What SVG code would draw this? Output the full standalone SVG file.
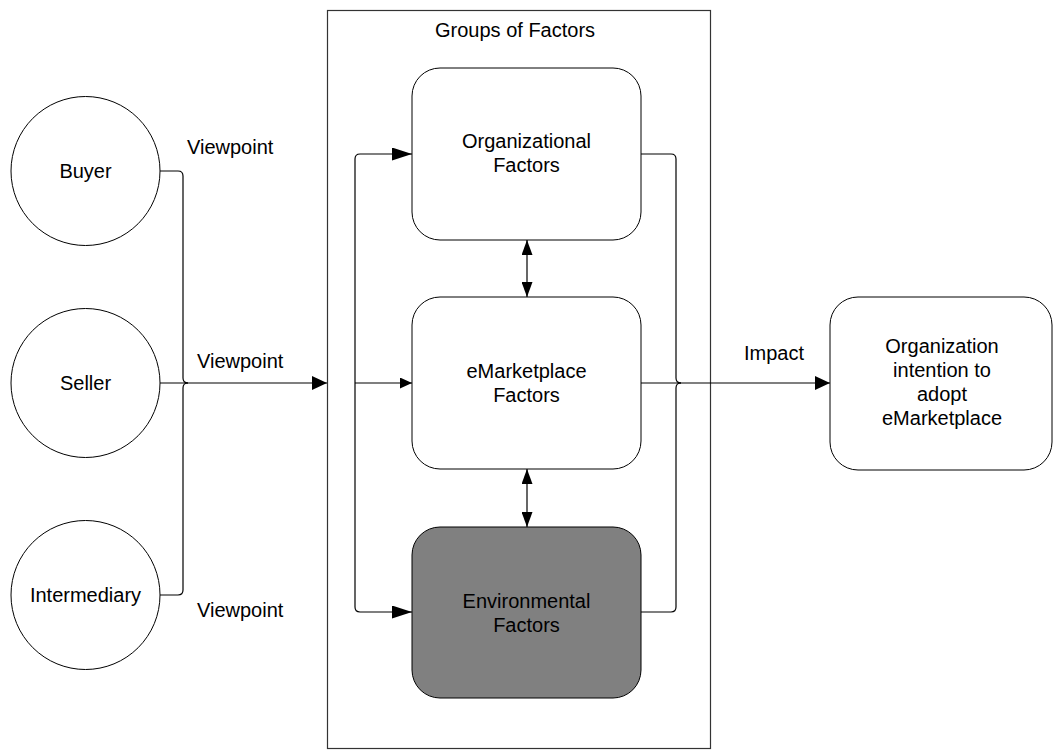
<svg xmlns="http://www.w3.org/2000/svg" width="1055" height="751" viewBox="0 0 1055 751">
<style>
text{font-family:"Liberation Sans",Arial,sans-serif;font-size:20px;fill:#000}
.c{text-anchor:middle}
.node{fill:#fff;stroke:#000;stroke-width:1}
.conn{fill:none;stroke:#000;stroke-width:1.2}
</style>
<defs>
<marker id="aL" viewBox="0 0 20 13" refX="20" refY="6.5" markerWidth="20" markerHeight="13" markerUnits="userSpaceOnUse" orient="auto"><path d="M0,0L20,6.5L0,13z" fill="#000"/></marker>
<marker id="aM" viewBox="0 0 15 14" refX="15" refY="7" markerWidth="15" markerHeight="14" markerUnits="userSpaceOnUse" orient="auto"><path d="M0,0L15,7L0,14z" fill="#000"/></marker>
<marker id="aS" viewBox="0 0 12 11" refX="12" refY="5.5" markerWidth="12" markerHeight="11" markerUnits="userSpaceOnUse" orient="auto"><path d="M0,0L12,5.5L0,11z" fill="#000"/></marker>
<marker id="aD" viewBox="0 0 15 11" refX="15" refY="5.5" markerWidth="15" markerHeight="11" markerUnits="userSpaceOnUse" orient="auto-start-reverse"><path d="M0,0L15,5.5L0,11z" fill="#000"/></marker>
</defs>
<rect width="1055" height="751" fill="#fff"/>
<g id="group">
<rect x="327.5" y="10.5" width="383" height="738" fill="none" stroke="#333" stroke-width="1.2"/>
<text x="435" y="37">Groups of Factors</text>
</g>
<g id="buyer"><circle class="node" cx="85.5" cy="171" r="74.5"/><text class="c" x="85.5" y="178">Buyer</text></g>
<g id="seller"><circle class="node" cx="85.5" cy="383" r="74.5"/><text class="c" x="85.5" y="390">Seller</text></g>
<g id="intermediary"><circle class="node" cx="85.5" cy="595" r="74.5"/><text class="c" x="85.5" y="602">Intermediary</text></g>
<g id="organizational"><rect class="node" x="412" y="68" width="229" height="172" rx="28"/><text class="c" x="526.5" y="148">Organizational</text><text class="c" x="526.5" y="172">Factors</text></g>
<g id="emarketplace"><rect class="node" x="412" y="297" width="229" height="172" rx="28"/><text class="c" x="526.5" y="378">eMarketplace</text><text class="c" x="526.5" y="402">Factors</text></g>
<g id="environmental"><rect x="412" y="527" width="229" height="171" rx="28" fill="#808080" stroke="#000"/><text class="c" x="526.5" y="608">Environmental</text><text class="c" x="526.5" y="632">Factors</text></g>
<g id="intention"><rect class="node" x="830" y="297" width="222" height="173" rx="28"/><text class="c" x="942" y="353">Organization</text><text class="c" x="942" y="377">intention to</text><text class="c" x="942" y="401">adopt</text><text class="c" x="942" y="425">eMarketplace</text></g>
<g id="connectors">
<path class="conn" d="M160,171H178Q183,171 183,176V378Q183,383 188,383"/>
<path class="conn" d="M160,595H178Q183,595 183,590V388Q183,383 188,383"/>
<path class="conn" d="M160,383H327" marker-end="url(#aM)"/>
<path class="conn" d="M355,383V159Q355,154 360,154H412" marker-end="url(#aL)"/>
<path class="conn" d="M355,383V607Q355,612 360,612H412" marker-end="url(#aL)"/>
<path class="conn" d="M355,383H412" marker-end="url(#aS)"/>
<path class="conn" d="M527,240V297" marker-start="url(#aD)" marker-end="url(#aD)"/>
<path class="conn" d="M527,469V527" marker-start="url(#aD)" marker-end="url(#aD)"/>
<path class="conn" d="M641,154H671Q676,154 676,159V378Q676,383 681,383"/>
<path class="conn" d="M641,612H671Q676,612 676,607V388Q676,383 681,383"/>
<path class="conn" d="M641,383H830" marker-end="url(#aM)"/>
<text x="187" y="154">Viewpoint</text>
<text x="197" y="368">Viewpoint</text>
<text x="197" y="617">Viewpoint</text>
<text x="744" y="360">Impact</text>
</g>
</svg>
